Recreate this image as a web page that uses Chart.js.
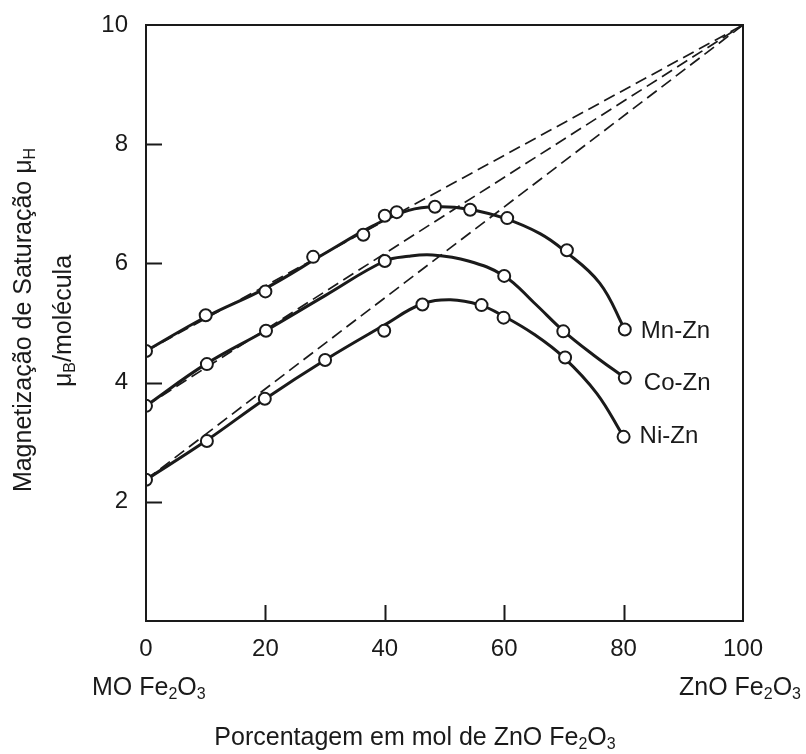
<!DOCTYPE html>
<html><head><meta charset="utf-8">
<script src="https://cdn.jsdelivr.net/npm/chart.js@4.4.1/dist/chart.umd.min.js"></script>
<style>html,body{margin:0;padding:0;background:#fff}canvas{display:block}</style>
</head><body>
<canvas id="c" width="806" height="754"></canvas>
<script>
// ---- data ----
const xTickValues = [0, 20, 40, 60, 80, 100];
const yTickValues = [2, 4, 6, 8, 10];
const seriesNames = ['Mn-Zn', 'Co-Zn', 'Ni-Zn'];

// measured points (circles)
const mnX = [0, 10, 20, 28, 36.4, 40, 42, 48.4, 54.3, 60.5, 70.5, 80.2];
const mnY = [4.53, 5.13, 5.53, 6.11, 6.48, 6.80, 6.86, 6.95, 6.90, 6.76, 6.22, 4.89];
const coX = [0, 10.2, 20.1, 40, 60, 69.9, 80.2];
const coY = [3.61, 4.31, 4.87, 6.04, 5.79, 4.86, 4.08];
const niX = [0, 10.2, 19.9, 30, 39.9, 46.3, 56.2, 59.9, 70.2, 80];
const niY = [2.37, 3.02, 3.73, 4.38, 4.87, 5.31, 5.30, 5.09, 4.42, 3.09];

// drawn curves
const mnCurveX = [0, 10, 20, 30, 38, 44, 49, 54, 60, 66, 70, 76, 80.2];
const mnCurveY = [4.53, 5.10, 5.58, 6.17, 6.63, 6.89, 6.95, 6.91, 6.76, 6.50, 6.22, 5.67, 4.89];
const coCurveX = [0, 10, 20, 30, 40, 44, 48, 54, 60, 65, 70, 75, 80.2];
const coCurveY = [3.61, 4.31, 4.87, 5.46, 6.04, 6.12, 6.14, 6.04, 5.79, 5.34, 4.86, 4.46, 4.08];
const niCurveX = [0, 10, 20, 30, 40, 46, 51, 56, 60, 65, 70, 75.5, 80];
const niCurveY = [2.37, 3.02, 3.73, 4.38, 4.97, 5.31, 5.39, 5.30, 5.11, 4.81, 4.42, 3.82, 3.09];

// dashed extrapolation lines (start value at 0 %, converging at 100 %)
const dashX = [0, 100];
const mnDashY = [4.53, 10];
const coDashY = [3.61, 10];
const niDashY = [2.37, 10];

// ---- helpers ----
const pts = (xs, ys) => xs.map((x, i) => ({x, y: ys[i]}));
const FONT = '"Liberation Sans", Arial, sans-serif';
const INK = '#1a1a1a';

function drawRich(ctx, parts, x, y, align, size) {
  const widths = parts.map(p => {
    ctx.font = (p.sub ? Math.round(size * 0.65) : size) + 'px ' + FONT;
    return ctx.measureText(p.t).width;
  });
  const total = widths.reduce((a, b) => a + b, 0);
  let cx = align === 'center' ? x - total / 2 : (align === 'right' ? x - total : x);
  ctx.textAlign = 'left';
  ctx.textBaseline = 'middle';
  parts.forEach((p, i) => {
    ctx.font = (p.sub ? Math.round(size * 0.65) : size) + 'px ' + FONT;
    ctx.fillText(p.t, cx, p.sub ? y + size * 0.28 : y);
    cx += widths[i];
  });
}

const decorPlugin = {
  id: 'decor',
  afterDraw(chart) {
    const {ctx, chartArea: a, scales} = chart;
    ctx.save();
    ctx.strokeStyle = INK;
    ctx.fillStyle = INK;
    // frame
    ctx.lineWidth = 2;
    ctx.strokeRect(a.left, a.top, a.right - a.left, a.bottom - a.top);
    // inward tick marks
    const tl = 16;
    ctx.beginPath();
    xTickValues.forEach(v => {
      if (v <= scales.x.min || v >= scales.x.max) return;
      const px = Math.round(scales.x.getPixelForValue(v)) + 0.5;
      ctx.moveTo(px, a.bottom); ctx.lineTo(px, a.bottom - tl);
    });
    yTickValues.forEach(v => {
      if (v <= scales.y.min || v >= scales.y.max) return;
      const py = Math.round(scales.y.getPixelForValue(v)) + 0.5;
      ctx.moveTo(a.left, py); ctx.lineTo(a.left + tl, py);
    });
    ctx.stroke();

    // series labels next to the last point of each series
    const ends = [[mnX, mnY], [coX, coY], [niX, niY]];
    const dy = [2, 6, 0];
    ctx.font = '24px ' + FONT;
    ctx.textAlign = 'left';
    ctx.textBaseline = 'middle';
    ends.forEach(([xs, ys], i) => {
      const px = scales.x.getPixelForValue(xs[xs.length - 1]);
      const py = scales.y.getPixelForValue(ys[ys.length - 1]);
      ctx.fillText(seriesNames[i], px + 16 + (i === 1 ? 3 : 0), py + dy[i]);
    });

    // y-axis title (two rotated lines)
    ctx.save();
    ctx.translate(24, 320);
    ctx.rotate(-Math.PI / 2);
    drawRich(ctx, [{t: 'Magnetização de Saturação μ'}, {t: 'H', sub: true}], 0, 0, 'center', 25);
    ctx.restore();
    ctx.save();
    ctx.translate(64, 321);
    ctx.rotate(-Math.PI / 2);
    drawRich(ctx, [{t: 'μ'}, {t: 'B', sub: true}, {t: '/molécula'}], 0, 0, 'center', 25);
    ctx.restore();

    // composition end labels and x title
    drawRich(ctx, [{t: 'MO Fe'}, {t: '2', sub: true}, {t: 'O'}, {t: '3', sub: true}], 92, 688, 'left', 25);
    drawRich(ctx, [{t: 'ZnO Fe'}, {t: '2', sub: true}, {t: 'O'}, {t: '3', sub: true}], 801, 688, 'right', 25);
    drawRich(ctx, [{t: 'Porcentagem em mol de ZnO Fe'}, {t: '2', sub: true}, {t: 'O'}, {t: '3', sub: true}], 415, 738, 'center', 25);
    ctx.restore();
  }
};

const curveStyle = {
  showLine: true, borderColor: INK, borderWidth: 3, pointRadius: 0,
  tension: 0.4, fill: false, order: 1
};
const dashStyle = {
  showLine: true, borderColor: INK, borderWidth: 1.7, borderDash: [12, 6],
  pointRadius: 0, fill: false, order: 2
};
const pointStyle = {
  showLine: false, pointRadius: 6, pointBorderWidth: 2,
  pointBackgroundColor: '#fff', pointBorderColor: INK, order: 0
};

const noPad = s => { s.paddingTop = 0; s.paddingBottom = 0; s.paddingLeft = 0; s.paddingRight = 0; };

new Chart(document.getElementById('c'), {
  type: 'scatter',
  data: {
    datasets: [
      Object.assign({label: 'Mn-Zn dashed', data: pts(dashX, mnDashY)}, dashStyle),
      Object.assign({label: 'Co-Zn dashed', data: pts(dashX, coDashY)}, dashStyle),
      Object.assign({label: 'Ni-Zn dashed', data: pts(dashX, niDashY)}, dashStyle),
      Object.assign({label: 'Mn-Zn curve', data: pts(mnCurveX, mnCurveY)}, curveStyle),
      Object.assign({label: 'Co-Zn curve', data: pts(coCurveX, coCurveY)}, curveStyle),
      Object.assign({label: 'Ni-Zn curve', data: pts(niCurveX, niCurveY)}, curveStyle),
      Object.assign({label: 'Mn-Zn', data: pts(mnX, mnY)}, pointStyle),
      Object.assign({label: 'Co-Zn', data: pts(coX, coY)}, pointStyle),
      Object.assign({label: 'Ni-Zn', data: pts(niX, niY)}, pointStyle)
    ]
  },
  options: {
    responsive: false,
    animation: false,
    layout: {autoPadding: false, padding: {left: 86, top: 25, right: 63, bottom: 93}},
    plugins: {legend: {display: false}, tooltip: {enabled: false}},
    scales: {
      x: {
        type: 'linear', min: 0, max: 100,
        afterFit: s => { s.height = 40; noPad(s); },
        afterBuildTicks: s => { s.ticks = xTickValues.map(v => ({value: v})); },
        grid: {display: false, drawTicks: false},
        border: {display: false},
        ticks: {font: {size: 24, family: FONT}, color: INK, padding: 14, maxRotation: 0}
      },
      y: {
        type: 'linear', min: 0, max: 10,
        afterFit: s => { s.width = 60; noPad(s); },
        afterBuildTicks: s => { s.ticks = yTickValues.map(v => ({value: v})); },
        grid: {display: false, drawTicks: false},
        border: {display: false},
        ticks: {font: {size: 24, family: FONT}, color: INK, padding: 18}
      }
    }
  },
  plugins: [decorPlugin]
});
</script>
</body></html>
